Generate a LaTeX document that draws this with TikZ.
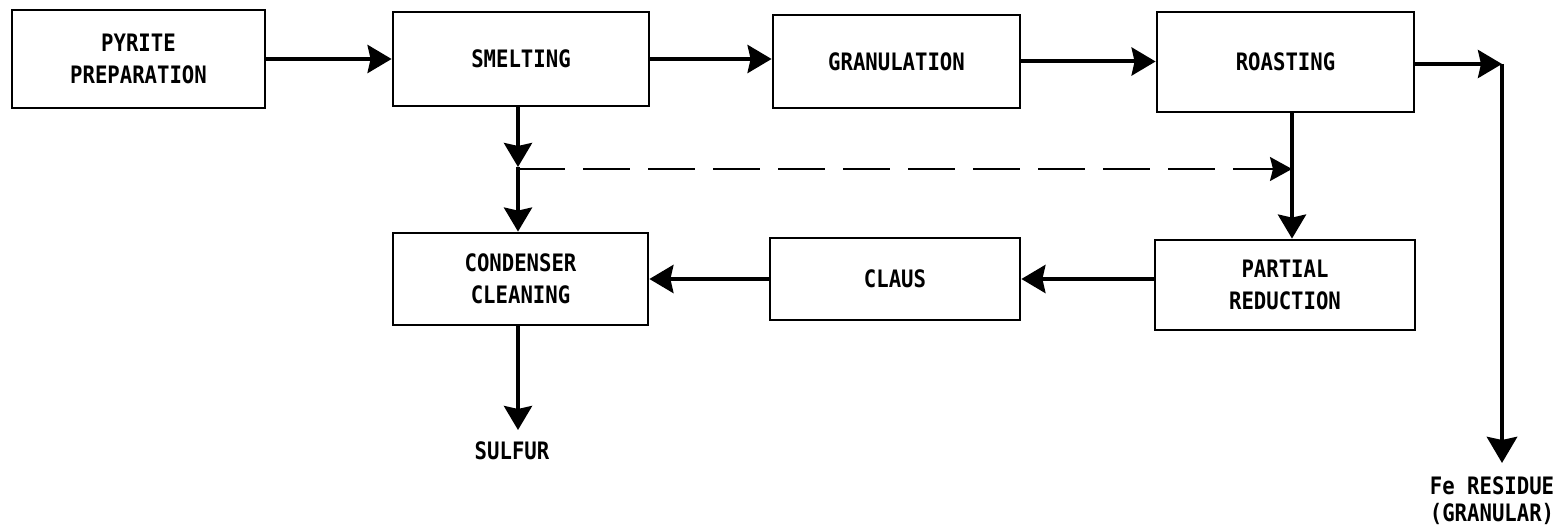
\documentclass[tikz,border=0pt]{standalone}
\usepackage{fontspec}
\setmainfont{DejaVu Sans Mono}[FakeStretch=0.86]
\usetikzlibrary{arrows.meta}
\begin{document}
\begin{tikzpicture}[x=0.5pt,y=-0.5pt,
  box/.style={draw,line width=1.4pt,align=center,inner sep=0pt,
    font=\fontsize{12}{16}\selectfont\bfseries},
  lbl/.style={align=center,inner sep=0pt,font=\fontsize{12}{13.5}\selectfont\bfseries},
  arr/.style={line width=2pt,-{Stealth[length=12pt,width=14pt,inset=1.5pt]}},
  darr/.style={line width=1pt,dash pattern=on 23.5pt off 9pt,-{Stealth[length=11pt,width=12pt,inset=1.5pt]}}]
\useasboundingbox (0,0) rectangle (1565,529);
\node[box,minimum width=126.5pt,minimum height=49pt] (pyr) at (138.5,59) {PYRITE\\PREPARATION};
\node[box,minimum width=128pt,minimum height=47pt] (sme) at (521,59) {SMELTING};
\node[box,minimum width=123.5pt,minimum height=46.5pt] (gra) at (896.5,61.5) {GRANULATION};
\node[box,minimum width=128.5pt,minimum height=50pt] (roa) at (1285.5,62) {ROASTING};
\node[box,minimum width=127.5pt,minimum height=46pt] (con) at (520.5,279) {CONDENSER\\CLEANING};
\node[box,minimum width=125pt,minimum height=41pt] (cla) at (895,279) {CLAUS};
\node[box,minimum width=130pt,minimum height=45pt] (par) at (1285,285) {PARTIAL\\REDUCTION};
\node[lbl] (sul) at (512,451) {SULFUR};
\node[lbl] (fe) at (1492,501) {Fe RESIDUE\\(GRANULAR)};
\coordinate (turn) at (1502,64);
\coordinate (feT) at (1502,463);
\coordinate (sd) at (518,167);
\coordinate (rd) at (1292,169);
\coordinate (sulT) at (518,430);
% top row
\draw[arr] (pyr.east) -- (sme.west);
\draw[arr] (sme.east) -- (sme.east -| gra.west);
\draw[arr] (gra.east) -- (gra.east -| roa.west);
\draw[arr] (roa.east |- turn) -- (turn);
\draw[line width=2.4pt,-{Stealth[length=13pt,width=15pt,inset=1.5pt]}] (turn) -- (feT);
% smelting down
\draw[arr] (sme.south -| sd) -- (sd);
\draw[arr] (sd) -- (sd |- con.north);
\draw[darr] (sd |- rd) -- (rd);
\draw[arr] (roa.south -| rd) -- (rd |- par.north);
% bottom row
\draw[arr] (par.west |- cla.east) -- (cla.east);
\draw[arr] (cla.west) -- (con.east);
\draw[arr] (con.south -| sulT) -- (sulT);
\end{tikzpicture}
\end{document}
